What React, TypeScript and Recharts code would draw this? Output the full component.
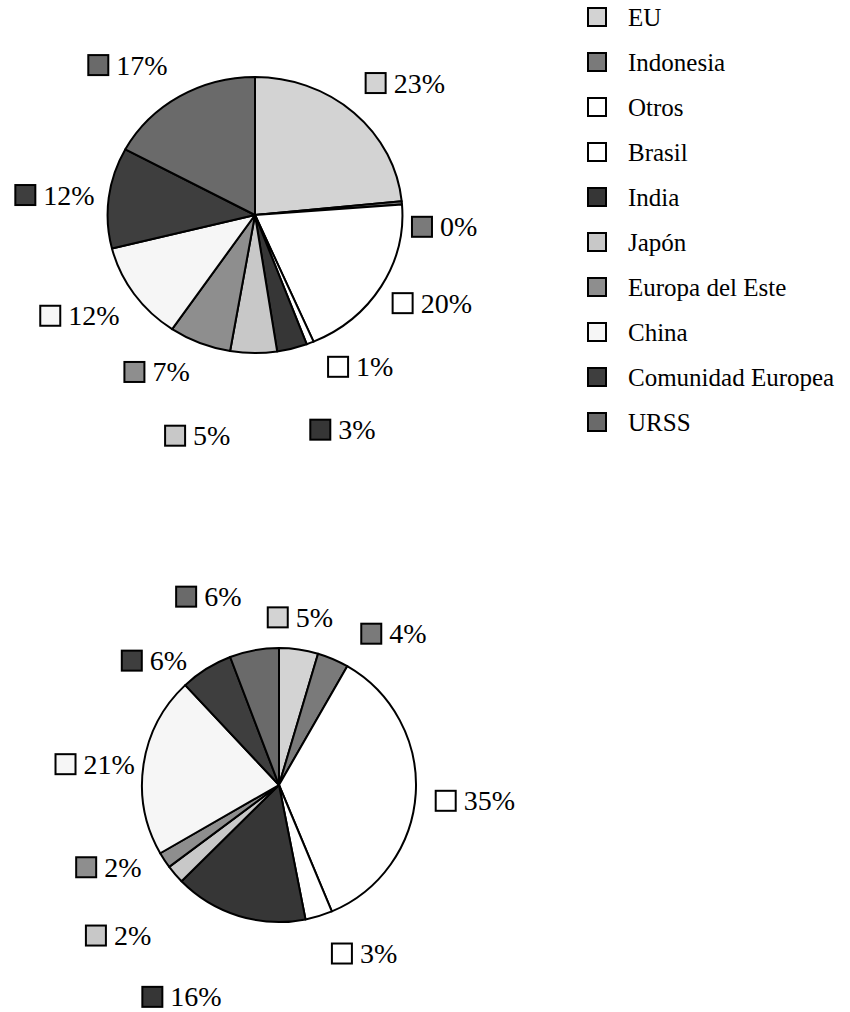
import React from 'react';
import { PieChart, Pie, Cell, Legend } from 'recharts';

// ---------- data ----------
const NAMES = ['EU', 'Indonesia', 'Otros', 'Brasil', 'India', 'Japón', 'Europa del Este', 'China', 'Comunidad Europea', 'URSS'];
const TOP_VALUES = [23.4, 0.4, 19.7, 0.8, 3.3, 5.1, 6.8, 11.6, 11.8, 17.1];
const BOTTOM_VALUES = [4.6, 3.7, 35.4, 3.2, 15.7, 2.2, 1.9, 21.3, 6.2, 5.8];

// ---------- styles ----------
const FILLS = ['#d3d3d3', '#7a7a7a', '#ffffff', '#ffffff', '#363636', '#c8c8c8', '#8e8e8e', '#f6f6f6', '#3e3e3e', '#6a6a6a'];
const FONT = 'Liberation Serif, Times New Roman, DejaVu Serif, serif';
const LABEL_FONT_SIZE = 28;
const LABEL_R = 195;
// label placement nudges: [extra clockwise degrees, extra radius px]
const TOP_NUDGE = [[6.6, 5], [8.6, -5], [-4.7, 3], [-12.9, -10], [-7.7, 37], [14, 33], [10, -10], [5, 7], [-1.5, 6], [-9.5, 1.5]];
const BOTTOM_NUDGE = [[-1, -26], [14, -5], [1, 2], [-10, -6], [7.5, 38], [-2.5, 25], [7.5, -6], [-2, -10], [-13, -19], [-10, 6]];

const topData = NAMES.map((name, i) => ({ name, value: TOP_VALUES[i] }));
const bottomData = NAMES.map((name, i) => ({ name, value: BOTTOM_VALUES[i] }));

const textWidth = (t: string) => {
  let w = 0;
  for (const ch of t) w += ch === '%' ? 0.833 : 0.5;
  return w * LABEL_FONT_SIZE;
};

const makeLabel = (nudges: number[][]) => (props: any) => {
  const { cx, cy, midAngle, index, value } = props;
  const [da, dr] = nudges[index] || [0, 0];
  const clock = ((90 - midAngle + da) * Math.PI) / 180;
  const r = LABEL_R + dr;
  const x = cx + r * Math.sin(clock);
  const y = cy - r * Math.cos(clock);
  const text = `${Math.round(value)}%`;
  const W = 20 + 8 + textWidth(text);
  const left = x - W / 2;
  return (
    <g key={`lbl-${index}`}>
      <rect x={left} y={y - 10} width={20} height={20} fill={FILLS[index]} stroke="#000" strokeWidth={2} />
      <text x={left + 28} y={y + 9.5} fontSize={LABEL_FONT_SIZE} style={{ fontFamily: FONT }} fill="#000">
        {text}
      </text>
    </g>
  );
};

const ellipseSector = (sx: number, sy: number) => (props: any) => {
  const { cx, cy, outerRadius, startAngle, endAngle, fill } = props;
  const rx = outerRadius * sx;
  const ry = outerRadius * sy;
  const a0 = (startAngle * Math.PI) / 180;
  const a1 = (endAngle * Math.PI) / 180;
  const p0x = cx + rx * Math.cos(a0);
  const p0y = cy - ry * Math.sin(a0);
  const p1x = cx + rx * Math.cos(a1);
  const p1y = cy - ry * Math.sin(a1);
  const large = Math.abs(startAngle - endAngle) > 180 ? 1 : 0;
  const sweep = startAngle > endAngle ? 1 : 0;
  return (
    <path
      d={`M${cx},${cy} L${p0x},${p0y} A${rx},${ry} 0 ${large} ${sweep} ${p1x},${p1y} Z`}
      fill={fill}
      stroke="#000"
      strokeWidth={2}
      strokeLinejoin="round"
    />
  );
};

const renderLegend = () => (
  <svg width={270} height={450} style={{ display: 'block' }}>
    {NAMES.map((n, i) => {
      const cy = 17 + i * 45;
      return (
        <g key={n}>
          <rect x={8} y={cy - 9} width={18} height={18} fill={FILLS[i]} stroke="#000" strokeWidth={2} />
          <text x={48} y={cy + 8.5} fontSize={25} style={{ fontFamily: FONT }} fill="#000">
            {n}
          </text>
        </g>
      );
    })}
  </svg>
);

export default function App() {
  return (
    <div style={{ position: 'absolute', left: 0, top: 0, width: 850, height: 1012, background: '#fff', fontFamily: FONT }}>
      <PieChart width={850} height={1012} margin={{ top: 0, right: 0, bottom: 0, left: 0 }} style={{ fontFamily: FONT }}>
        <Pie
          data={topData}
          dataKey="value"
          nameKey="name"
          cx={255}
          cy={215}
          outerRadius={143}
          startAngle={90}
          endAngle={-270}
          stroke="#000"
          strokeWidth={2}
          isAnimationActive={false}
          labelLine={false}
          label={makeLabel(TOP_NUDGE)}
          shape={ellipseSector(1.031, 0.965)}
          legendType="none"
        >
          {topData.map((d, i) => (
            <Cell key={d.name} fill={FILLS[i]} />
          ))}
        </Pie>
        <Pie
          data={bottomData}
          dataKey="value"
          nameKey="name"
          cx={279}
          cy={785}
          outerRadius={137}
          startAngle={90}
          endAngle={-270}
          stroke="#000"
          strokeWidth={2}
          isAnimationActive={false}
          labelLine={false}
          label={makeLabel(BOTTOM_NUDGE)}
          shape={ellipseSector(1, 1)}
          legendType="none"
        >
          {bottomData.map((d, i) => (
            <Cell key={d.name} fill={FILLS[i]} />
          ))}
        </Pie>
        <Legend
          layout="vertical"
          align="right"
          verticalAlign="top"
          content={renderLegend}
          wrapperStyle={{ position: 'absolute', left: 580, top: 0, right: 'auto', width: 270 }}
        />
      </PieChart>
    </div>
  );
}
